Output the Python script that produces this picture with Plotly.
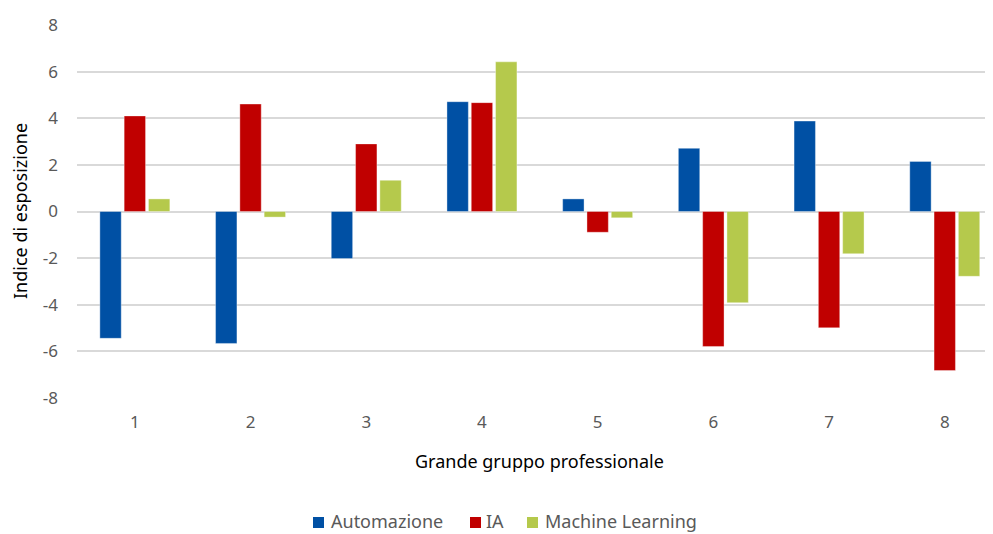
import plotly.graph_objects as go

# ── Data ──────────────────────────────────────────────────────────────────────
gruppi = ["1", "2", "3", "4", "5", "6", "7", "8"]
automazione = [-5.44, -5.66, -2.02, 4.71, 0.54, 2.71, 3.88, 2.15]
ia = [4.10, 4.61, 2.90, 4.67, -0.89, -5.79, -4.99, -6.82]
machine_learning = [0.54, -0.24, 1.34, 6.42, -0.27, -3.91, -1.81, -2.78]
y_ticks = [-8, -6, -4, -2, 0, 2, 4, 6, 8]
y_tick_labels = ["-8", "-6", "-4", "-2", "0", "2", "4", "6", "8"]

SERIES = [
    ("Automazione", automazione, "#0050A4"),
    ("IA", ia, "#C00000"),
    ("Machine Learning", machine_learning, "#B5C94C"),
]

FONT = "Noto Sans, Open Sans, sans-serif"

# page body has an 8px default margin, so the figure is a bit smaller
W, H = 985, 526
PLOT_L, PLOT_T = 77, 25      # plot area position on the page
PLOT_W, PLOT_H = 916, 373


def px(x):
    """page x pixel -> paper coordinate"""
    return (x - PLOT_L) / PLOT_W


def py(y):
    """page y pixel -> paper coordinate"""
    return (PLOT_T + PLOT_H - y) / PLOT_H


fig = go.Figure()
for name, vals, color in SERIES:
    fig.add_trace(go.Bar(
        x=list(range(1, len(gruppi) + 1)),
        y=vals,
        name=name,
        marker=dict(color=color, line=dict(width=0.6, color="rgba(255,255,255,0.6)")),
        showlegend=False,
    ))

# ── Legend drawn by hand (Excel style, below the axis title) ──────────────────
legend_pos = [(313, 329), (470, 484), (527, 543)]   # square left, text left
shapes, annotations = [], []
for (sq_x, tx_x), (name, _, color) in zip(legend_pos, SERIES):
    shapes.append(dict(
        type="rect", xref="paper", yref="paper",
        x0=px(sq_x), x1=px(sq_x + 11), y0=py(528), y1=py(517),
        fillcolor=color, line=dict(width=0),
    ))
    annotations.append(dict(
        text=name, x=px(tx_x), y=py(521), xref="paper", yref="paper",
        xanchor="left", yanchor="middle", showarrow=False,
        font=dict(size=18, color="#595959"),
    ))

annotations += [
    dict(
        text="Grande gruppo professionale",
        x=px(539), y=py(461), xref="paper", yref="paper",
        xanchor="center", yanchor="middle", showarrow=False,
        font=dict(size=18, color="#000000"),
    ),
    dict(
        text="Indice di esposizione",
        x=px(20), y=py(211), xref="paper", yref="paper",
        showarrow=False, textangle=-90,
        xanchor="center", yanchor="middle",
        font=dict(size=18, color="#000000"),
    ),
]

fig.update_layout(
    width=W,
    height=H,
    barmode="group",
    bargap=0.37,
    bargroupgap=0.12,
    paper_bgcolor="white",
    plot_bgcolor="white",
    margin=dict(l=PLOT_L - 8, r=0, t=PLOT_T - 8, b=H - (PLOT_T - 8) - PLOT_H),
    font=dict(family=FONT, color="#595959", size=18),
    xaxis=dict(
        range=[0.5, 8.417],
        tickmode="array",
        tickvals=list(range(1, len(gruppi) + 1)),
        ticktext=gruppi,
        showgrid=False,
        showline=False,
        ticks="",
        ticklabelstandoff=12,
        tickfont=dict(size=17, color="#595959"),
    ),
    yaxis=dict(
        range=[-8, 8],
        tickmode="array",
        tickvals=y_ticks,
        ticktext=y_tick_labels,
        showgrid=True,
        gridcolor="#D9D9D9",
        gridwidth=1.5,
        zeroline=True,
        zerolinecolor="#D9D9D9",
        zerolinewidth=1.5,
        ticks="",
        ticklabelstandoff=18,
        tickfont=dict(size=17, color="#595959"),
    ),
    showlegend=False,
    shapes=shapes,
    annotations=annotations,
)

fig.write_html("out.html")
